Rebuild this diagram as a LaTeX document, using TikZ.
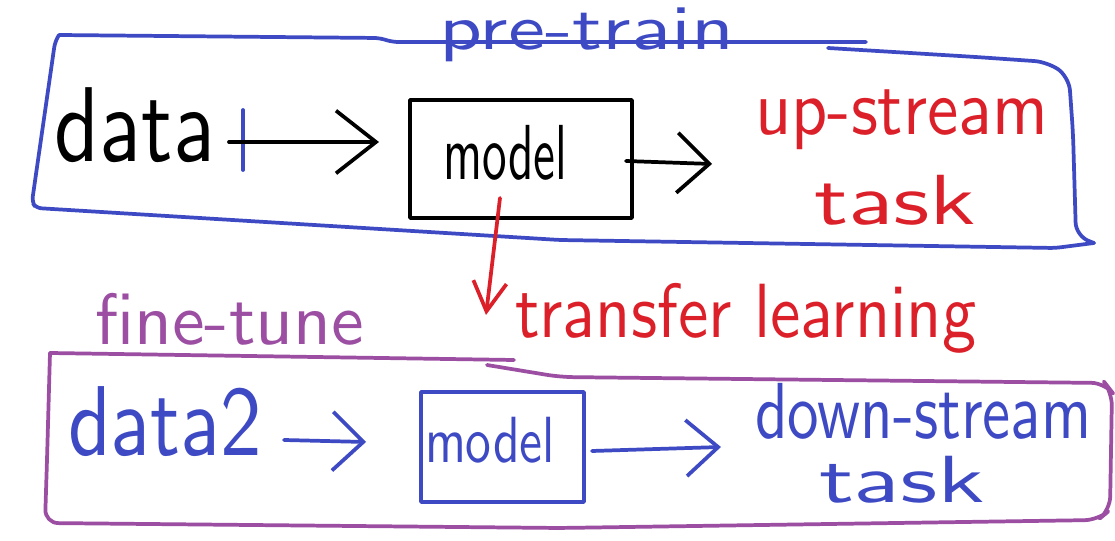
\documentclass[tikz,border=0pt]{standalone}
\usepackage{fontspec}
\usetikzlibrary{arrows.meta}
\definecolor{pblue}{RGB}{62,74,196}
\definecolor{pred}{RGB}{220,32,42}
\definecolor{ppurple}{RGB}{155,78,162}
\newcommand\hwtext[3]{\resizebox*{\dimexpr #1pt*3/4\relax}{\dimexpr #2pt*3/4\relax}{\sffamily #3}}
\begin{document}
\begin{tikzpicture}[x=0.75pt,y=-0.75pt,line cap=round,line join=round,
  hand/.style={line width=2.8pt},
  lbl/.style={inner sep=0pt,outer sep=0pt,anchor=north west},
  modelbox/.style={draw,hand,inner sep=0pt,outer sep=0pt}]
\fill[white] (0,0) rectangle (1115,541);
\useasboundingbox (0,0) rectangle (1115,541);

% pre-train container (blue)
\draw[hand,pblue,rounded corners=4pt] (59,35) -- (379,38) -- (393,42) -- (866,42);
\draw[hand,pblue,rounded corners=10pt] (828,48) -- (976,57) -- (1048,62) -- (1069,77)
  -- (1073,133) -- (1076,236) -- (1094,243);
\draw[hand,pblue,rounded corners=4pt] (1094,243) -- (1055,248) -- (560,240) -- (36,208)
  -- (32,202) -- (55,42) -- (59,35);

% fine-tune container (purple)
\draw[hand,ppurple] (50,353) -- (514,360);
\draw[hand,ppurple,rounded corners=10pt] (487,365) -- (560,377) -- (1105,383) -- (1112,392)
  -- (1110,510) -- (1098,520) -- (560,528) -- (45,523) -- (47,460) -- (50,353);

% labels
\node[lbl,pblue] (pretrain) at (439,8) {\hwtext{295}{54}{pre-train}};
\node[lbl] (data) at (55,88) {\hwtext{160}{75}{data}};
\draw[hand,pblue] (243,110) -- (243,170);
\node[modelbox,minimum width=166.5pt,minimum height=88.5pt] (box1) at (521,159) {};
\node[lbl] (model1) at (443,125) {\hwtext{124}{55}{model}};
\node[lbl,pred] (up) at (755,90) {\hwtext{293}{60}{up-stream}};
\node[lbl,pred] (task1) at (814,175) {\hwtext{162}{50}{task}};
\node[lbl,pred] (transfer) at (515,283) {\hwtext{461}{70}{transfer learning}};
\node[lbl,ppurple] (finetune) at (95,293) {\hwtext{269}{52}{fine-tune}};
\node[lbl,pblue] (data2) at (68,387) {\hwtext{194}{70}{data2}};
\node[modelbox,pblue,minimum width=122.25pt,minimum height=82.5pt] (box2) at (502.5,447) {};
\node[lbl,pblue] (model2) at (425,417) {\hwtext{130}{46}{model}};
\node[lbl,pblue] (down) at (755,383) {\hwtext{336}{56}{down-stream}};
\node[lbl,pblue] (task2) at (819,456) {\hwtext{166}{47}{task}};

% arrow end points
\coordinate (a1s) at (229,142);
\coordinate (a1e) at (379,142);
\coordinate (a2s) at (626,161);
\coordinate (a2e) at (712,164);
\coordinate (a3s) at (500,198);
\coordinate (a3e) at (486,315);
\coordinate (a4s) at (284,440);
\coordinate (a4e) at (366,442);
\coordinate (a5s) at (592,451);
\coordinate (a5e) at (721,447);

% connectors
\draw[hand,-{Straight Barb[length=30pt,width=47pt]}] (a1s) -- (a1e);
\draw[hand,-{Straight Barb[length=24pt,width=45pt]}] (a2s) -- (a2e);
\draw[hand,pred,-{Straight Barb[length=22pt,width=25pt]}] (a3s) -- (a3e);
\draw[hand,pblue,-{Straight Barb[length=23pt,width=44pt]}] (a4s) -- (a4e);
\draw[hand,pblue,-{Straight Barb[length=24pt,width=42pt]}] (a5s) -- (a5e);
\end{tikzpicture}
\end{document}
